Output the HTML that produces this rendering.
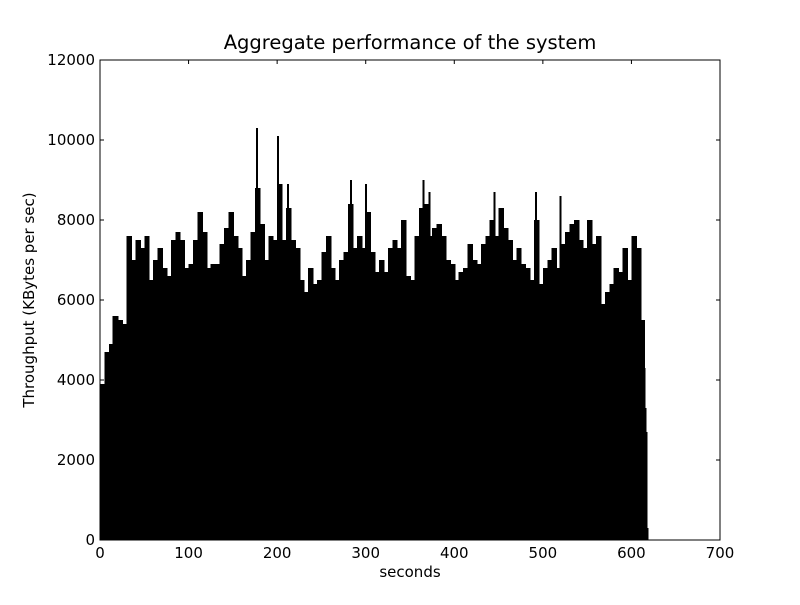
<!DOCTYPE html>
<html><head><meta charset="utf-8"><style>
body{margin:0;background:#fff;font-family:"Liberation Sans","DejaVu Sans",sans-serif}
</style></head><body>
<svg id="chart" width="800" height="600" xmlns="http://www.w3.org/2000/svg" font-family="DejaVu Sans, Liberation Sans, sans-serif">
<rect width="800" height="600" fill="#fff"/>
<text x="410" y="49" font-size="19.5" text-anchor="middle">Aggregate performance of the system</text>
<text x="410" y="577" font-size="15" text-anchor="middle">seconds</text>
<text transform="translate(34,300) rotate(-90)" font-size="15" text-anchor="middle">Throughput (KBytes per sec)</text>
<g id="bars" shape-rendering="crispEdges"></g>
<g id="axes"></g>
</svg>
<script>
const binStarts = [0,5,10,14,20,25,30,35,40,45,50,55,60,65,70,75,80,85,90,95,100,105,110,115,120,125,130,135,140,145,150,155,160,165,170,175,180,185,190,195,200,205,210,215,220,225,230,235,240,245,250,255,260,265,270,275,280,285,290,295,300,305,310,315,320,325,330,335,340,345,350,355,360,365,370,375,380,385,390,395,400,405,410,415,420,425,430,435,440,445,450,455,460,465,470,475,480,485,490,495,500,505,510,515,520,525,530,535,540,545,550,555,560,565,570,575,580,585,590,595,600,605,610,614,615,616,617,618];
const throughput = [3900,4700,4900,5600,5500,5400,7600,7000,7500,7300,7600,6500,7000,7300,6800,6600,7500,7700,7500,6800,6900,7500,8200,7700,6800,6900,6900,7400,7800,8200,7600,7300,6600,7000,7700,8800,7900,7000,7600,7500,8900,7500,8300,7500,7300,6500,6200,6800,6400,6500,7200,7600,6800,6500,7000,7200,8400,7300,7600,7300,8200,7200,6700,7000,6700,7300,7500,7300,8000,6600,6500,7600,8300,8400,7600,7800,7900,7600,7000,6900,6500,6700,6800,7400,7000,6900,7400,7600,8000,7600,8300,7800,7500,7000,7300,6900,6800,6500,8000,6400,6800,7000,7300,6800,7400,7700,7900,8000,7500,7300,8000,7400,7600,5900,6200,6400,6800,6700,7300,6500,7600,7300,5500,4300,3300,2700,300];
const spikeSeconds = [176,200,211,282,299,364,371,444,491,519];
const spikeValues = [10300,10100,8900,9000,8900,9000,8700,8700,8700,8600];
const xTicks = [0,100,200,300,400,500,600,700];
const yTicks = [0,2000,4000,6000,8000,10000,12000];

const L=100,R=720,T=60,B=540;
const xs=v=>L+(v-0)/(700)*(R-L);
const ys=v=>B-v/12000*(B-T);
const NS="http://www.w3.org/2000/svg";
const bars=document.getElementById('bars');
for(let i=0;i<throughput.length;i++){
  const r=document.createElementNS(NS,'rect');
  const x0=xs(binStarts[i]),x1=xs(binStarts[i+1]);
  r.setAttribute('x',x0);r.setAttribute('width',x1-x0+1);
  r.setAttribute('y',ys(throughput[i]));r.setAttribute('height',B-ys(throughput[i]));
  r.setAttribute('fill','#000');
  
  
  bars.appendChild(r);
}
for(let i=0;i<spikeValues.length;i++){
  const r=document.createElementNS(NS,'rect');
  r.setAttribute('x',xs(spikeSeconds[i]));r.setAttribute('width',2);
  r.setAttribute('y',ys(spikeValues[i]));r.setAttribute('height',B-ys(spikeValues[i]));
  r.setAttribute('fill','#000');
  
  
  bars.appendChild(r);
}
const axes=document.getElementById('axes');
const frame=document.createElementNS(NS,'rect');
frame.setAttribute('x',L);frame.setAttribute('y',T);frame.setAttribute('width',R-L);frame.setAttribute('height',B-T);
frame.setAttribute('fill','none');frame.setAttribute('stroke','#000');frame.setAttribute('stroke-width','1');


axes.appendChild(frame);
function line(x1,y1,x2,y2){const l=document.createElementNS(NS,'line');l.setAttribute('x1',x1);l.setAttribute('y1',y1);l.setAttribute('x2',x2);l.setAttribute('y2',y2);l.setAttribute('stroke','#000');return l;}
xTicks.forEach(t=>{
  const x=xs(t);
  const a=line(x,B,x,B-4);axes.appendChild(a);
  const b=line(x,T,x,T+4);axes.appendChild(b);
  const tx=document.createElementNS(NS,'text');tx.setAttribute('x',x);tx.setAttribute('y',B+18);tx.setAttribute('font-size','15');tx.setAttribute('text-anchor','middle');tx.textContent=t;
  
  
  axes.appendChild(tx);
});
yTicks.forEach(t=>{
  const y=ys(t);
  const a=line(L,y,L+4,y);axes.appendChild(a);
  const b=line(R,y,R-4,y);axes.appendChild(b);
  const tx=document.createElementNS(NS,'text');tx.setAttribute('x',L-5);tx.setAttribute('y',y+5);tx.setAttribute('font-size','15');tx.setAttribute('text-anchor','end');tx.textContent=t;
  
  
  axes.appendChild(tx);
});
</script>
</body></html>
